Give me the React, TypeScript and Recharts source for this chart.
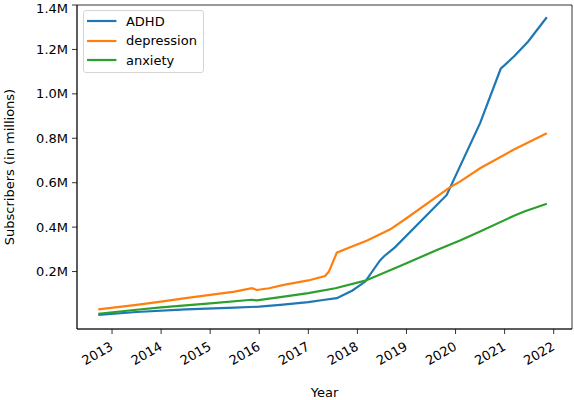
import React from 'react';
import { LineChart, Line, XAxis, YAxis, ReferenceArea, Legend, Label } from 'recharts';

// ---- data (decimal year, subscribers) ----
const adhdYears = [2012.72, 2013.5, 2014.5, 2015.5, 2016.0, 2016.43, 2017.0, 2017.3, 2017.58, 2017.9, 2018.16, 2018.46, 2018.55, 2018.77, 2019.82, 2020.5, 2020.92, 2021.2, 2021.48, 2021.86];
const adhdSubs = [5000, 18000, 30000, 38000, 42000, 50000, 62000, 72000, 80000, 115000, 155000, 250000, 270000, 310000, 545000, 868000, 1113000, 1170000, 1236000, 1345000];

const depressionYears = [2012.72, 2013.5, 2014.0, 2014.5, 2015.0, 2015.5, 2015.85, 2015.95, 2016.2, 2016.5, 2017.0, 2017.34, 2017.42, 2017.58, 2017.8, 2018.2, 2018.67, 2019.0, 2019.89, 2020.09, 2020.5, 2021.18, 2021.86];
const depressionSubs = [30000, 50000, 65000, 80000, 95000, 110000, 125000, 117000, 125000, 140000, 160000, 180000, 200000, 285000, 305000, 340000, 390000, 440000, 580000, 605000, 665000, 748000, 823000];

const anxietyYears = [2012.72, 2013.5, 2014.0, 2015.0, 2015.85, 2015.95, 2016.5, 2017.0, 2017.55, 2018.16, 2018.87, 2019.62, 2020.09, 2020.5, 2021.18, 2021.4, 2021.86];
const anxietySubs = [10000, 28000, 39000, 57000, 73000, 70000, 87000, 103000, 125000, 159000, 225000, 297000, 340000, 380000, 450000, 470000, 505000];

const xTicks = [2013, 2014, 2015, 2016, 2017, 2018, 2019, 2020, 2021, 2022];
const yTicks = [200000, 400000, 600000, 800000, 1000000, 1200000, 1400000];

const X_DOMAIN: [number, number] = [2012.286, 2022.373];
const Y_DOMAIN: [number, number] = [-58600, 1400000];

const toRows = (years: number[], subs: number[]) => years.map((year, i) => ({ year, subs: subs[i] }));

const seriesList = [
  { name: 'ADHD', color: '#1f77b4', data: toRows(adhdYears, adhdSubs) },
  { name: 'depression', color: '#ff7f0e', data: toRows(depressionYears, depressionSubs) },
  { name: 'anxiety', color: '#2ca02c', data: toRows(anxietyYears, anxietySubs) },
];

const FONT = "'DejaVu Sans', sans-serif";

const XTick = (props: any) => {
  const { x, y, payload } = props;
  return (
    <text
      x={x + 2}
      y={y + 15}
      transform={`rotate(-30 ${x + 2} ${y + 15})`}
      textAnchor="end"
      fontSize={13}
      fontFamily={FONT}
      fill="#000"
    >
      {String(payload.value)}
    </text>
  );
};

const LegendBox = () => (
  <div
    style={{
      boxSizing: 'border-box',
      width: 121.5,
      height: 62.7,
      border: '1px solid #d5d5d5',
      borderRadius: 3,
      background: 'rgba(255,255,255,0.8)',
      paddingTop: 0.5,
      fontFamily: FONT,
      fontSize: 13,
      color: '#000',
    }}
  >
    {seriesList.map((s) => (
      <div key={s.name} style={{ display: 'flex', alignItems: 'center', height: 19.6, paddingLeft: 3.6 }}>
        <svg width={29.4} height={4} style={{ display: 'block' }}>
          <line x1={0} x2={29.4} y1={2} y2={2} stroke={s.color} strokeWidth={2.2} />
        </svg>
        <span style={{ marginLeft: 9.3, lineHeight: '15px', whiteSpace: 'nowrap' }}>{s.name}</span>
      </div>
    ))}
  </div>
);

export default function App() {
  return (
    <div style={{ position: 'absolute', left: 0, top: 0, width: 574, height: 400, background: '#fff' }}>
      <LineChart width={574} height={400} margin={{ top: 5, right: 2, left: 0, bottom: 0 }}>
        <XAxis
          type="number"
          dataKey="year"
          domain={X_DOMAIN}
          ticks={xTicks}
          allowDataOverflow
          height={71}
          tickSize={5}
          tickMargin={0}
          tick={<XTick />}
          tickLine={{ stroke: '#000', strokeWidth: 0.8 }}
          axisLine={{ stroke: '#000', strokeWidth: 0.8 }}
        >
          <Label
            content={() => (
              <text x={324.5} y={397} textAnchor="middle" fontSize={13} fontFamily={FONT} fill="#000">
                Year
              </text>
            )}
          />
        </XAxis>
        <YAxis
          type="number"
          dataKey="subs"
          domain={Y_DOMAIN}
          ticks={yTicks}
          allowDataOverflow
          width={77}
          tickSize={5}
          tickMargin={4}
          tickFormatter={(v: number) => `${(v / 1e6).toFixed(1)}M`}
          tick={{ fontSize: 13, fontFamily: FONT, fill: '#000' }}
          tickLine={{ stroke: '#000', strokeWidth: 0.8 }}
          axisLine={{ stroke: '#000', strokeWidth: 0.8 }}
        >
          <Label
            content={() => (
              <text
                x={14}
                y={167}
                transform="rotate(-90 14 167)"
                textAnchor="middle"
                fontSize={13}
                fontFamily={FONT}
                fill="#000"
              >
                Subscribers (in millions)
              </text>
            )}
          />
        </YAxis>
        <ReferenceArea
          x1={X_DOMAIN[0]}
          x2={X_DOMAIN[1]}
          y1={Y_DOMAIN[0]}
          y2={Y_DOMAIN[1]}
          fill="none"
          fillOpacity={0}
          stroke="#000"
          strokeWidth={0.8}
          ifOverflow="visible"
        />
        {seriesList.map((s) => (
          <Line
            key={s.name}
            data={s.data}
            dataKey="subs"
            name={s.name}
            type="linear"
            stroke={s.color}
            strokeWidth={2.2}
            dot={false}
            activeDot={false}
            isAnimationActive={false}
          />
        ))}
        <Legend
          layout="vertical"
          align="center"
          verticalAlign="middle"
          wrapperStyle={{ position: 'absolute', left: 82.7, top: 10, width: 121.5, height: 62.7 }}
          content={<LegendBox />}
        />
      </LineChart>
    </div>
  );
}
